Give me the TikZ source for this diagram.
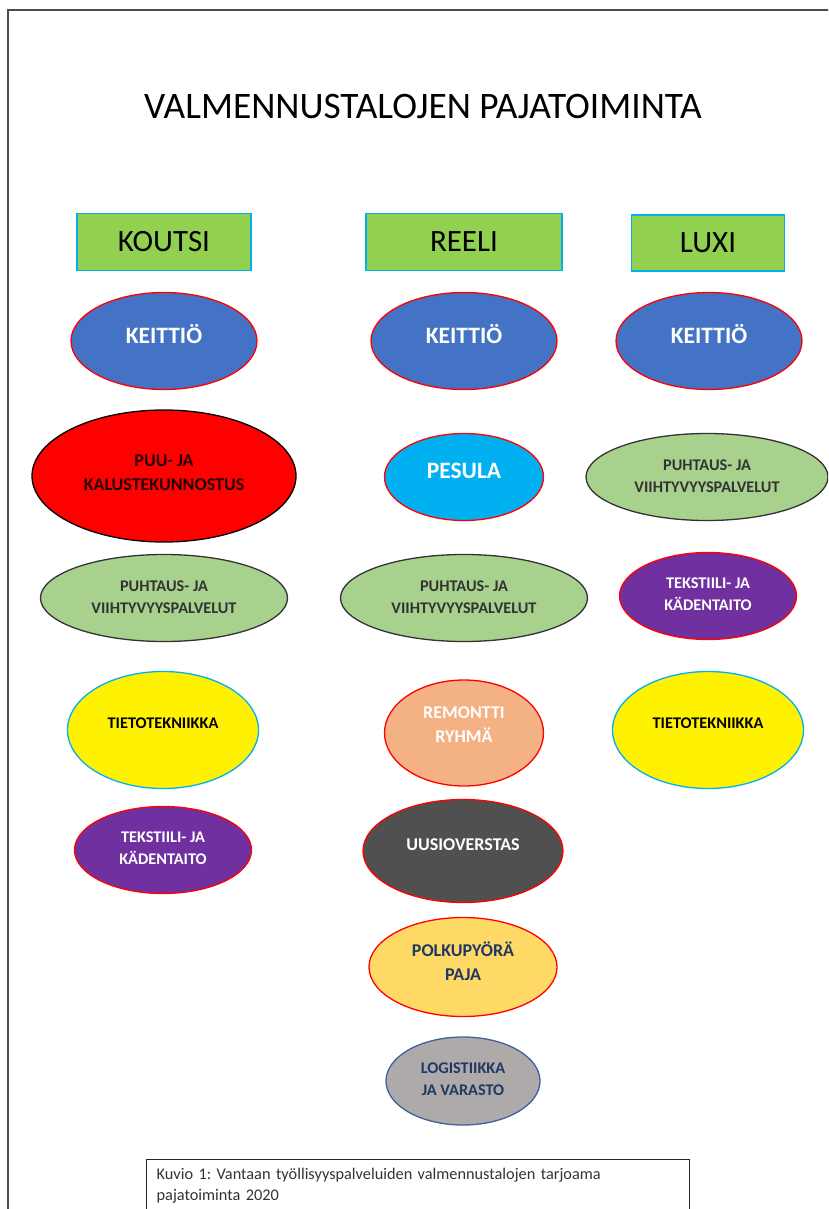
\documentclass[tikz,border=0pt]{standalone}
\usepackage{fontspec}
\setmainfont{Carlito}
\usetikzlibrary{shapes.geometric}
\definecolor{vihrea}{HTML}{92D050}
\definecolor{syaani}{HTML}{00B0F0}
\definecolor{sininen}{HTML}{4472C4}
\definecolor{vaaleanvihrea}{HTML}{A9D18E}
\definecolor{violetti}{HTML}{7030A0}
\definecolor{persikka}{HTML}{F4B183}
\definecolor{tummanharmaa}{HTML}{505050}
\definecolor{kulta}{HTML}{FFD966}
\definecolor{harmaa}{HTML}{AEAAAA}
\definecolor{tummansininen}{HTML}{203864}
\definecolor{reunasininen}{HTML}{41609C}

\begin{document}
\begin{tikzpicture}[x=1pt,y=-1pt,
    talo/.style={draw=syaani, line width=1.6pt, fill=vihrea, inner sep=0pt,
        minimum height=57pt, font=\fontsize{31}{36}\selectfont},
    paja/.style={ellipse, line width=1.3pt, inner sep=0pt, align=center,
        font=\bfseries\fontsize{16.3}{22}\selectfont},
    isopaja/.style={paja, font=\bfseries\fontsize{23.5}{28}\selectfont},
    keittio/.style={isopaja, draw=red, fill=sininen, text=white, text depth=14pt,
        minimum width=186pt, minimum height=97pt},
    puhtaus/.style={paja, draw=black!80, fill=vaaleanvihrea, text=black!80,
        text depth=2pt, minimum height=87pt},
    tieto/.style={paja, draw=syaani, fill=yellow, text=black, text depth=13pt,
        minimum width=191pt, minimum height=117pt},
    tekstiili/.style={paja, draw=red, fill=violetti, text=white, text depth=3pt,
        minimum width=177pt, minimum height=87pt},
]
\useasboundingbox (0,0) rectangle (828,1209);
\clip (0,0) rectangle (828,1209);

%sivun kehys
\draw[black!70, line width=2.4pt] (8,1220) -- (8,10) -- (840,10);

%otsikko
\node (otsikko) at (423,107) {\fontsize{37.4}{42}\selectfont VALMENNUSTALOJEN PAJATOIMINTA};

%valmennustalot
\node[talo, minimum width=174pt] (koutsi) at (164,242) {KOUTSI};
\node[talo, minimum width=196pt] (reeli) at (464,242) {REELI};
\node[talo, minimum width=153pt, minimum height=56pt] (luxi) at (708,243) {LUXI};

%koutsin pajat
\node[keittio] (koutsiKeittio) at (164,341) {KEITTIÖ};
\node[paja, draw=black, fill=red, text=black!85!red, text depth=6pt, minimum width=264pt, minimum height=132pt,
    font=\bfseries\fontsize{18}{24}\selectfont] (koutsiPuu) at (164,476) {PUU- JA\\KALUSTEKUNNOSTUS};
\node[puhtaus, minimum width=247pt] (koutsiPuhtaus) at (164,598) {PUHTAUS- JA\\VIIHTYVYYSPALVELUT};
\node[tieto] (koutsiTieto) at (163,730) {TIETOTEKNIIKKA};
\node[tekstiili] (koutsiTekstiili) at (163,850) {TEKSTIILI- JA\\KÄDENTAITO};

%reelin pajat
\node[keittio] (reeliKeittio) at (464,341) {KEITTIÖ};
\node[isopaja, draw=red, fill=syaani, text=white, text depth=12pt, minimum width=159pt, minimum height=87pt]
    (reeliPesula) at (464,477) {PESULA};
\node[puhtaus, minimum width=247pt] (reeliPuhtaus) at (464,598) {PUHTAUS- JA\\VIIHTYVYYSPALVELUT};
\node[paja, draw=red, fill=persikka, text=white, text depth=16pt, minimum width=159pt, minimum height=106pt,
    font=\bfseries\fontsize{18}{24}\selectfont] (reeliRemontti) at (464,733) {REMONTTI\\RYHMÄ};
\node[paja, draw=red, fill=tummanharmaa, text=white, text depth=12pt, minimum width=200pt, minimum height=103pt,
    font=\bfseries\fontsize{18}{24}\selectfont] (reeliUusio) at (463,851) {UUSIOVERSTAS};
\node[paja, draw=red, fill=kulta, text=tummansininen, text depth=11pt, minimum width=188pt, minimum height=99pt,
    font=\bfseries\fontsize{18}{24}\selectfont] (reeliPolkupyora) at (463,967) {POLKUPYÖRÄ\\PAJA};
\node[paja, draw=reunasininen, fill=harmaa, text=tummansininen, text depth=4pt, minimum width=154pt, minimum height=88pt]
    (reeliLogistiikka) at (463,1081) {LOGISTIIKKA\\JA VARASTO};

%luxin pajat
\node[keittio] (luxiKeittio) at (709,341) {KEITTIÖ};
\node[puhtaus, minimum width=242pt] (luxiPuhtaus) at (707,477) {PUHTAUS- JA\\VIIHTYVYYSPALVELUT};
\node[tekstiili] (luxiTekstiili) at (708,596) {TEKSTIILI- JA\\KÄDENTAITO};
\node[tieto] (luxiTieto) at (708,730) {TIETOTEKNIIKKA};

%kuvioteksti
\node[draw=black!85, line width=1.3pt, anchor=north west, align=left, text width=523pt,
    inner xsep=10pt, inner ysep=9pt, minimum height=70pt,
    font=\frenchspacing\fontsize{16.3}{21}\selectfont, text=black!80] (kuvio) at (146,1159)
    {Kuvio 1: Vantaan työllisyyspalveluiden valmennustalojen tarjoama\\pajatoiminta 2020\par\vspace{20pt}};
\end{tikzpicture}
\end{document}
